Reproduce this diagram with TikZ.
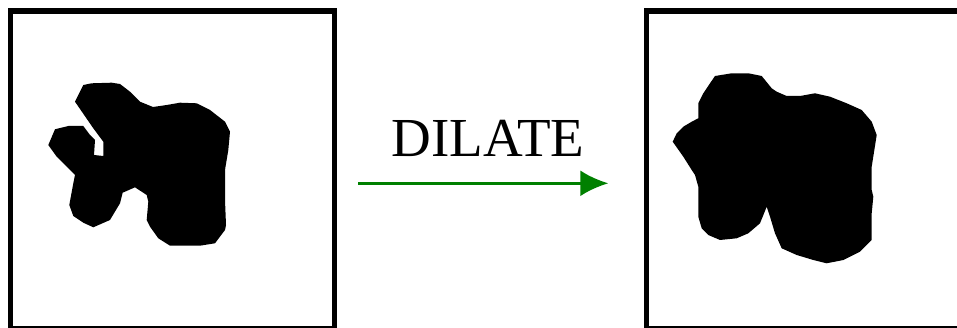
\documentclass[tikz,border=0pt]{standalone}
\usepackage{fontspec}
\setmainfont{Liberation Serif}
\usetikzlibrary{arrows.meta}
\begin{document}
\begin{tikzpicture}[x=1pt,y=-1pt,
  frame/.style={draw=black,line width=5.5pt},
  blob/.style={fill=black,draw=none},
  flow/.style={draw={rgb,255:red,0;green,128;blue,0},line width=3pt,
    -{Latex[length=28pt,width=26pt]}}]
\useasboundingbox (0,0) rectangle (957,328);
\begin{scope}
\clip (0,0) rectangle (957,328);
\draw[frame] (10.5,11) rectangle (334.5,329);
\draw[frame] (646.3,11) rectangle (990,329);
\end{scope}
% original shape
\fill[blob] (83.3,85) -- (91.7,83.3) -- (111.7,82.7) -- (120,84) -- (130,91.7)
  -- (140,101.7) -- (153,107) -- (166.7,105) -- (180,102.7) -- (196.7,103.3)
  -- (210,110) -- (225,121.7) -- (230,131.7) -- (228.3,150) -- (225,170)
  -- (225,200) -- (226,225) -- (225,230) -- (215,243.3) -- (200,245.7)
  -- (170,245.7) -- (158.3,238.3) -- (150,226.7) -- (146.7,220) -- (148.3,201.7)
  -- (146.7,195) -- (135,187.3) -- (122.7,192.7) -- (120,203.3) -- (110,220)
  -- (93.3,227.3) -- (83.3,222.7) -- (73.3,216) -- (69.3,205) -- (73.3,183.3)
  -- (75,175) -- (56.7,156.7) -- (48.3,145) -- (55,129.3) -- (68.3,126)
  -- (83.3,126) -- (90,135) -- (95,140) -- (94,155) -- (103.3,156)
  -- (103.3,141.7) -- (93.3,128.3) -- (75,101.7) -- cycle;
% dilated shape
\fill[blob] (715,76) -- (731.7,73.3) -- (748.3,73.3) -- (761.7,76) -- (771.7,88.3)
  -- (776.7,91.7) -- (786.7,96) -- (800,96) -- (815,93.3) -- (830,96.7)
  -- (846.7,103.3) -- (861.7,110) -- (871.7,121.7) -- (876.7,135) -- (871.7,166.7)
  -- (871.7,190) -- (873.3,196.7) -- (871.7,213.3) -- (871.7,240) -- (860,251.7)
  -- (843.3,260) -- (826.7,263.3) -- (813.3,260) -- (796.7,255) -- (781.7,248.3)
  -- (775,233.3) -- (770,216.7) -- (766.7,206.7) -- (760,223.3) -- (748.3,233.3)
  -- (736.7,238.3) -- (720,240) -- (708.3,235) -- (701.7,228.3) -- (698.3,216.7)
  -- (698.3,186.7) -- (695,175) -- (691.7,170) -- (683.3,156.7) -- (672.7,141.7)
  -- (676.7,133.3) -- (683.3,126.7) -- (691.7,121.7) -- (698.3,118.3) -- (698.3,103.3)
  -- (703.3,93.3) -- (710,83.3) -- cycle;
% label and arrow
\node[anchor=base,inner sep=0pt,font=\fontsize{55}{60}\selectfont] (lbl) at (488,156.7) {DILATE};
\coordinate (from) at (358,183.3);
\coordinate (to) at (608.3,183.3);
\draw[flow] (from) -- (to);
\end{tikzpicture}
\end{document}
